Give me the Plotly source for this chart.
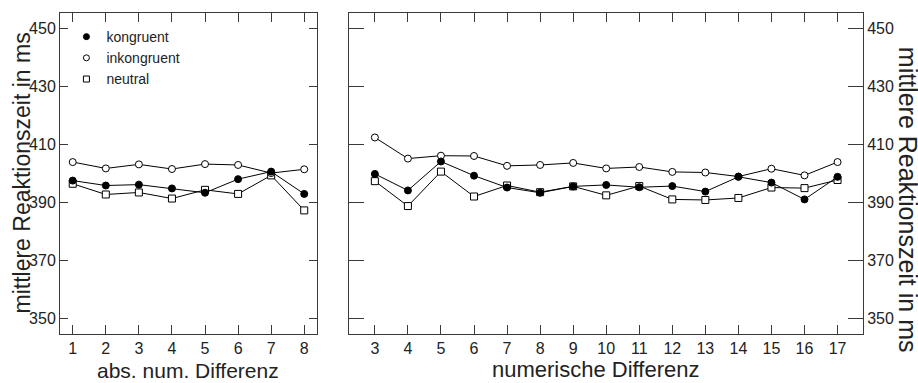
import plotly.graph_objects as go

# ---- data ----
left_x = [1, 2, 3, 4, 5, 6, 7, 8]
left_kongruent = [397.5, 395.8, 396.1, 394.8, 393.3, 398.0, 400.6, 392.9]
left_inkongruent = [403.9, 401.7, 403.1, 401.5, 403.2, 402.9, 400.1, 401.4]
left_neutral = [396.4, 392.7, 393.4, 391.3, 394.3, 392.9, 399.3, 387.2]

right_x = [3, 4, 5, 6, 7, 8, 9, 10, 11, 12, 13, 14, 15, 16, 17]
right_kongruent = [399.8, 394.1, 404.1, 399.2, 395.1, 393.3, 395.5, 396.0,
                   395.2, 395.6, 393.7, 398.8, 396.8, 391.0, 398.8]
right_inkongruent = [412.4, 405.1, 406.1, 406.0, 402.6, 402.9, 403.6, 401.7,
                     402.2, 400.5, 400.3, 398.9, 401.6, 399.3, 403.9]
right_neutral = [397.3, 388.7, 400.6, 392.0, 395.8, 393.5, 395.5, 392.4,
                 395.6, 391.0, 390.8, 391.5, 395.1, 394.9, 397.7]

y_ticks = [350, 370, 390, 410, 430, 450]
series_names = ["kongruent", "inkongruent", "neutral"]

FONT = "Liberation Sans, Arial, sans-serif"
AX = "#3a3a3a"
TXT = "#222222"

styles = {
    "kongruent": dict(symbol="circle", size=7, color="black", line=dict(color="black", width=1)),
    "inkongruent": dict(symbol="circle", size=7, color="white", line=dict(color="black", width=1)),
    "neutral": dict(symbol="square", size=7, color="white", line=dict(color="black", width=1)),
}

fig = go.Figure()

panels = [
    ("x", "y", left_x, {"kongruent": left_kongruent, "inkongruent": left_inkongruent, "neutral": left_neutral}),
    ("x2", "y2", right_x, {"kongruent": right_kongruent, "inkongruent": right_inkongruent, "neutral": right_neutral}),
]
for xa, ya, xs, d in panels:
    for name in ["neutral", "inkongruent", "kongruent"]:
        fig.add_trace(go.Scatter(
            x=xs, y=d[name], mode="lines+markers", xaxis=xa, yaxis=ya,
            line=dict(color="black", width=1), marker=styles[name],
            showlegend=False, cliponaxis=False,
        ))

# legend entries (markers only)
for name in series_names:
    m = dict(styles[name])
    m["size"] = 6
    fig.add_trace(go.Scatter(x=[None], y=[None], mode="markers", name=name,
                             marker=m, xaxis="x", yaxis="y"))

common_x = dict(showline=True, linecolor=AX, linewidth=1, mirror="ticks",
                ticks="inside", ticklen=9, tickcolor=AX, tickwidth=1,
                showgrid=False, zeroline=False,
                tickfont=dict(family=FONT, size=16, color=TXT))
common_y = dict(showline=True, linecolor=AX, linewidth=1, mirror="ticks",
                ticks="inside", tickcolor=AX, tickwidth=1,
                showgrid=False, zeroline=False, range=[344.5, 455.4],
                tickvals=y_ticks, ticktext=[str(v) for v in y_ticks],
                tickfont=dict(family=FONT, size=16, color=TXT))

fig.update_layout(
    width=918, height=383,
    margin=dict(l=60, r=55, t=13, b=49),
    paper_bgcolor="white", plot_bgcolor="white",
    font=dict(family=FONT, color=TXT),
    xaxis=dict(domain=[0, 0.32], range=[0.615, 8.385], tickvals=left_x, **common_x),
    xaxis2=dict(domain=[0.36, 1], range=[2.22, 17.77], tickvals=right_x, anchor="y2", **common_x),
    yaxis=dict(anchor="x", side="left", ticklen=8, **common_y),
    yaxis2=dict(anchor="x2", side="right", ticklen=15, **common_y),
    legend=dict(x=0.008, y=0.975, xanchor="left", yanchor="top",
                bgcolor="rgba(0,0,0,0)", font=dict(family=FONT, size=14, color=TXT),
                itemwidth=30, tracegroupgap=0),
    annotations=[
        dict(text="abs. num. Differenz", xref="x domain", yref="paper", x=0.5, y=-0.115,
             xanchor="center", yanchor="middle", showarrow=False,
             font=dict(family=FONT, size=21, color=TXT)),
        dict(text="numerische Differenz", xref="x2 domain", yref="paper", x=0.479, y=-0.112,
             xanchor="center", yanchor="middle", showarrow=False,
             font=dict(family=FONT, size=22, color=TXT)),
        dict(text="mittlere Reaktionszeit in ms", xref="paper", yref="paper",
             x=(21 - 60) / 803, y=0.5, xanchor="center", yanchor="middle",
             textangle=-90, showarrow=False, font=dict(family=FONT, size=23, color=TXT)),
        dict(text="mittlere Reaktionszeit in ms", xref="paper", yref="paper",
             x=(908 - 60) / 803, y=0.418, xanchor="center", yanchor="middle",
             textangle=90, showarrow=False, font=dict(family=FONT, size=25, color=TXT)),
    ],
)

fig.write_html("out.html", config={"displayModeBar": False})

# remove default page margin so the figure sits at the window's top-left corner
with open("out.html", "r", encoding="utf-8") as f:
    html = f.read()
html = html.replace("<head>", "<head><style>html,body{margin:0;padding:0;overflow:hidden;}</style>", 1)
with open("out.html", "w", encoding="utf-8") as f:
    f.write(html)
